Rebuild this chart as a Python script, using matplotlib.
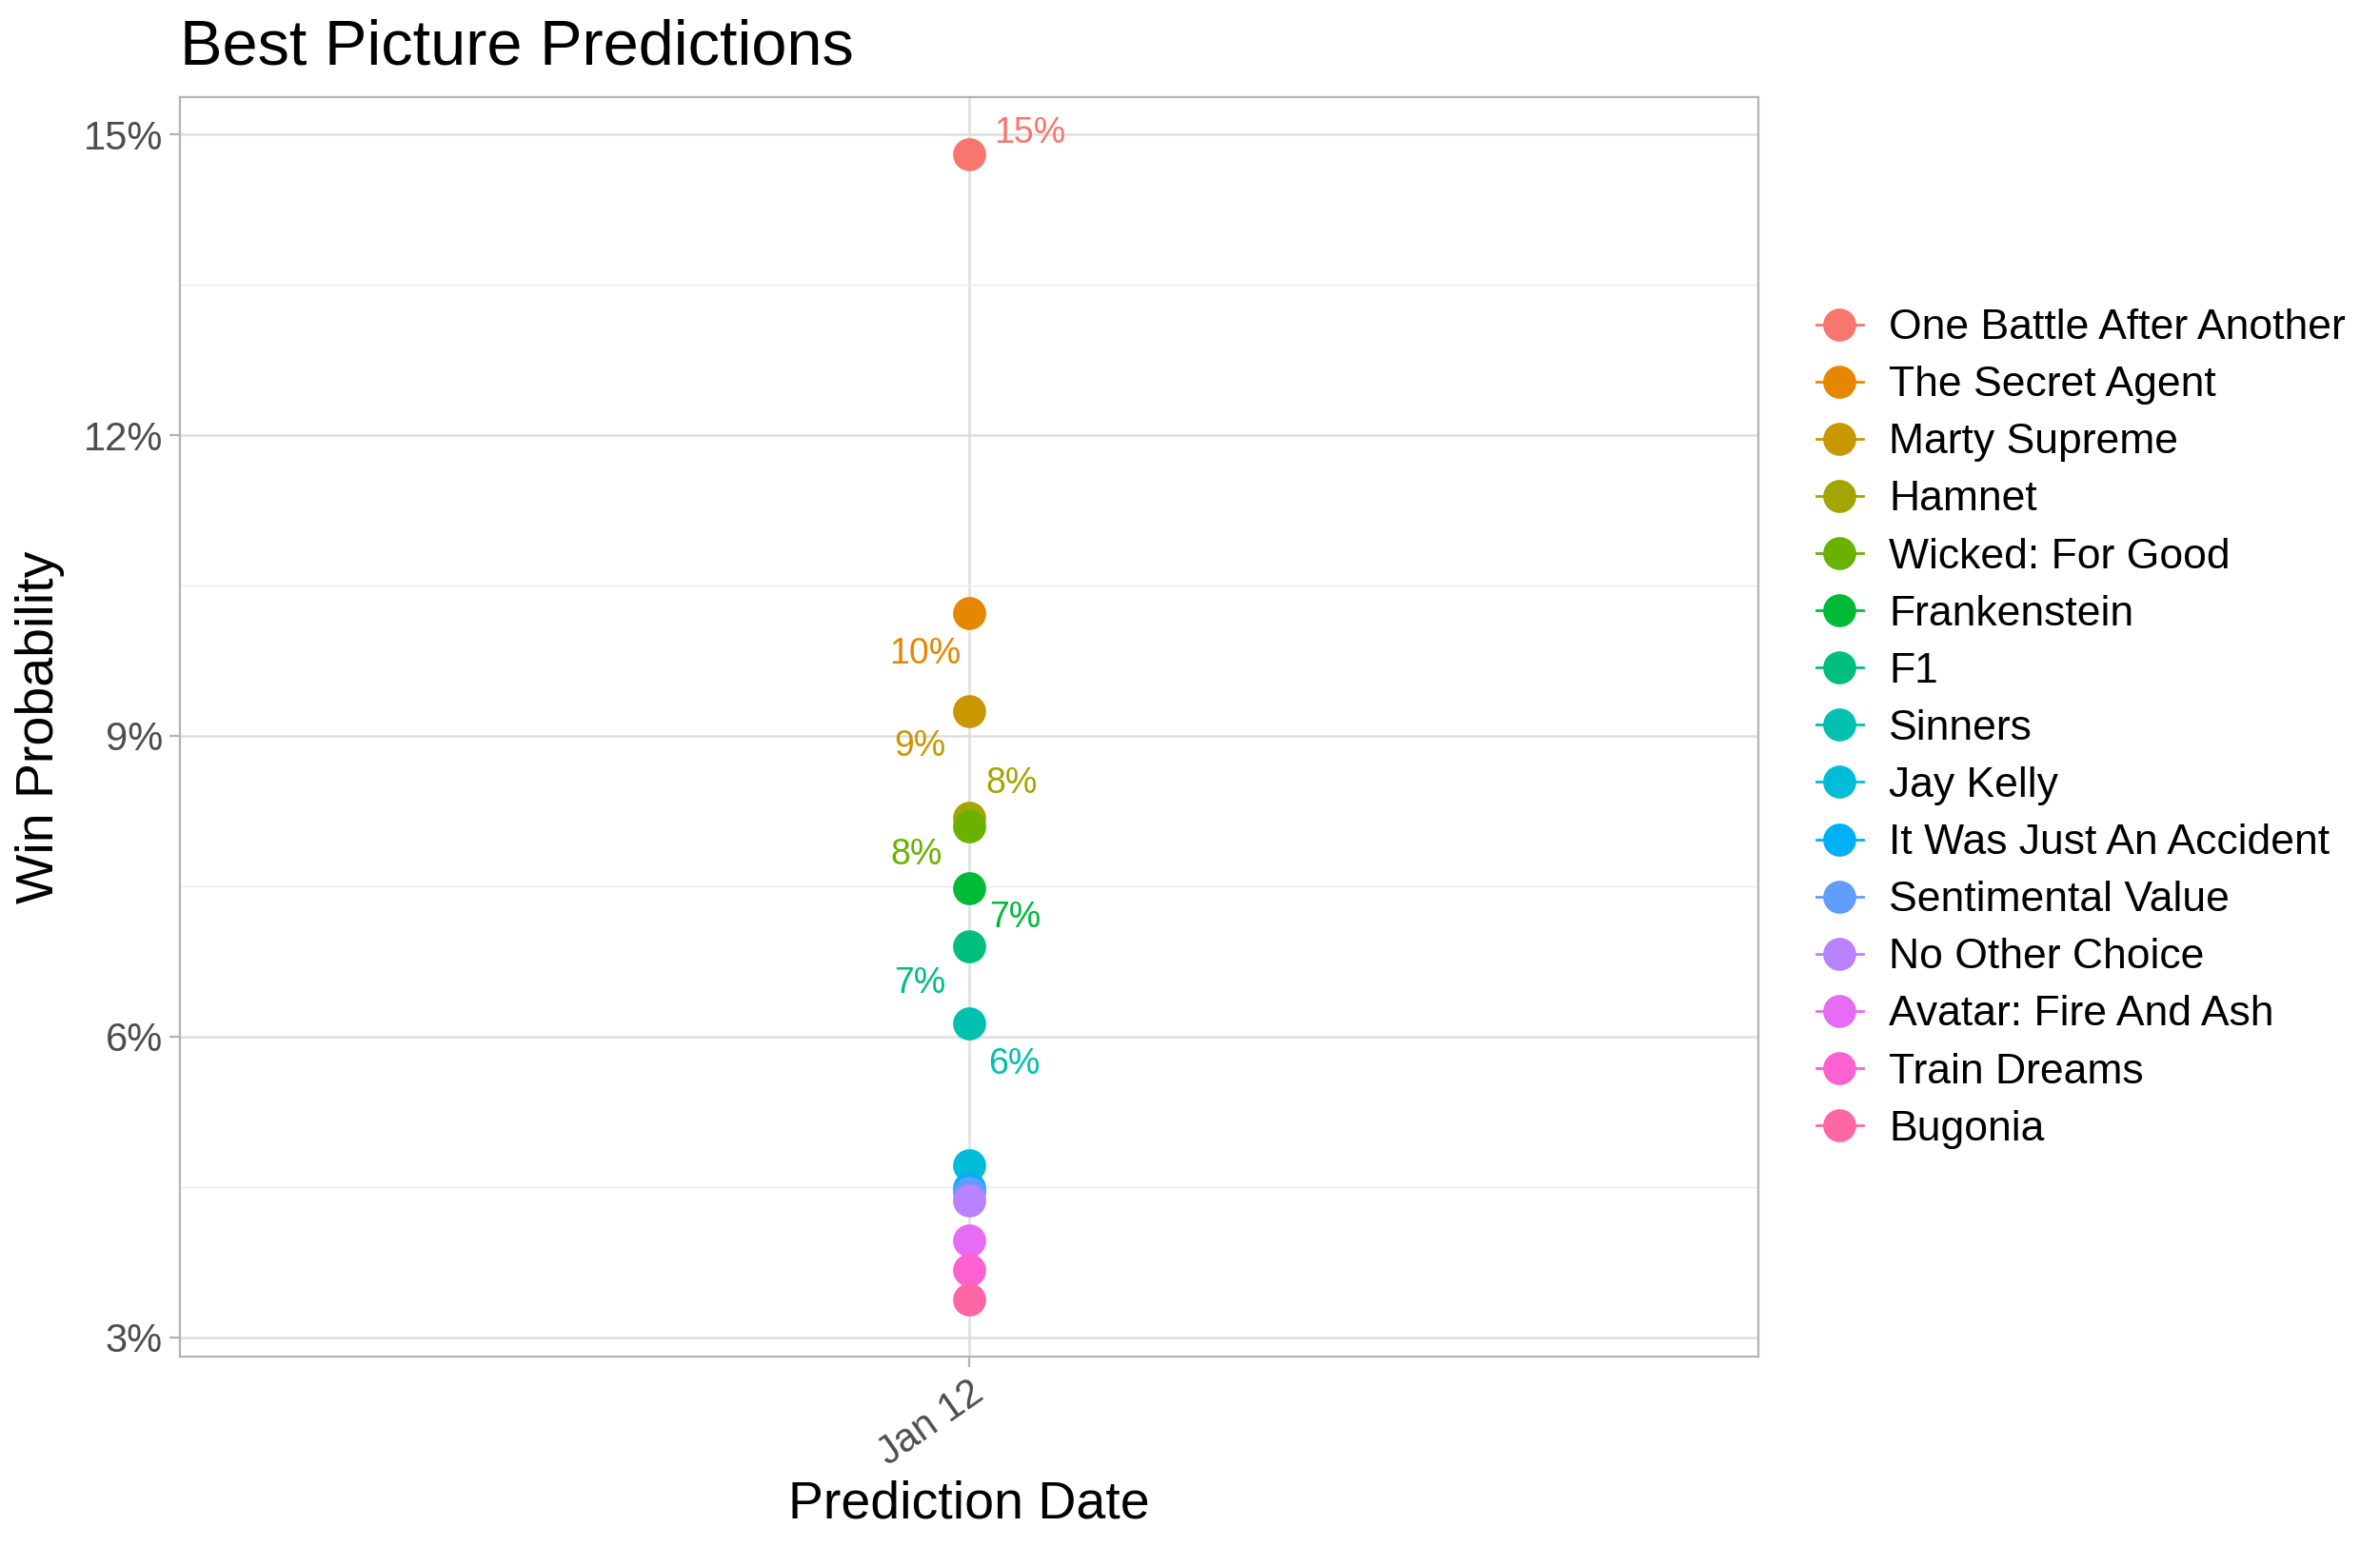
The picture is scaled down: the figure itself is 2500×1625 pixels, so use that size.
import matplotlib
matplotlib.use("Agg")
import matplotlib.pyplot as plt
from matplotlib.lines import Line2D
from matplotlib.ticker import MultipleLocator, FuncFormatter
import matplotlib.dates as mdates
from datetime import datetime

plt.rcParams['font.family'] = ['Liberation Sans', 'DejaVu Sans']

# ---- data ----
films = ["One Battle After Another", "The Secret Agent", "Marty Supreme", "Hamnet",
         "Wicked: For Good", "Frankenstein", "F1", "Sinners", "Jay Kelly",
         "It Was Just An Accident", "Sentimental Value", "No Other Choice",
         "Avatar: Fire And Ash", "Train Dreams", "Bugonia"]
win_prob = [14.80, 10.22, 9.25, 8.18, 8.10, 7.48, 6.90, 6.13, 4.72,
            4.49, 4.44, 4.36, 3.97, 3.67, 3.38]
pred_date = datetime(2026, 1, 12)
colors = ["#F8766D", "#E58700", "#C99800", "#A3A500", "#6BB100", "#00BA38",
          "#00BF7D", "#00C0AF", "#00BCD8", "#00B0F6", "#619CFF", "#B983FF",
          "#E76BF3", "#FD61D1", "#FF67A4"]
y_ticks = [3, 6, 9, 12, 15]

# label offsets (style, in points) for the labelled films
label_offsets = [(46, 16), (-33, -31), (-37, -27), (32, 26), (-40, -22),
                 (35, -22), (-37, -28), (34, -31)]

fig = plt.figure(figsize=(25, 16.25), dpi=100)
ax = fig.add_axes([0.0756, 0.1232, 0.6632, 0.8140])

xnum = mdates.date2num(pred_date)
for f, v, c in zip(films, win_prob, colors):
    ax.plot([xnum], [v], linestyle='-', marker='o', color=c, markersize=25,
            markeredgewidth=0, zorder=3)

labelled = [i for i, v in enumerate(win_prob) if v >= 5]
for i, off in zip(labelled, label_offsets):
    ax.annotate(f"{round(win_prob[i])}%", xy=(xnum, win_prob[i]), xytext=off,
                textcoords='offset points', ha='center', va='center',
                color=colors[i], fontsize=27, zorder=4)

span = max(win_prob) - min(win_prob)
ax.set_ylim(min(win_prob) - 0.05 * span, max(win_prob) + 0.05 * span)
ax.set_xlim(xnum - 1, xnum + 1)

ax.set_yticks(y_ticks)
ax.yaxis.set_major_formatter(FuncFormatter(lambda v, p: f"{v:.0f}%"))
ax.yaxis.set_minor_locator(MultipleLocator(1.5))
ax.set_xticks([xnum])
ax.set_xticklabels([pred_date.strftime("%b %d")], rotation=35, ha='right',
                   rotation_mode='anchor')

ax.grid(which='major', color='#DEDEDE', linewidth=1.8, zorder=0)
ax.grid(which='minor', axis='y', color='#EBEBEB', linewidth=0.9, zorder=0)
ax.set_axisbelow(True)
for s in ax.spines.values():
    s.set_color('#B3B3B3')
    s.set_linewidth(1.6)
ax.tick_params(which='major', length=8, width=1.6, color='#B3B3B3',
               labelcolor='#4D4D4D', labelsize=30, pad=5)
ax.tick_params(which='minor', length=0)

ax.set_xlabel("Prediction Date", fontsize=40, color='black', labelpad=5)
ax.set_ylabel("Win Probability", fontsize=40, color='black', labelpad=14)

fig.text(0.0756, 1 - 67 / 1625, "Best Picture Predictions", fontsize=48,
         ha='left', va='baseline', color='black')

handles = [Line2D([0], [0], color=c, marker='o', markersize=25, linewidth=2,
                  markeredgewidth=0) for c in colors]
fig.legend(handles, films, loc='center left', bbox_to_anchor=(0.756, 0.529),
           frameon=False, fontsize=32, handlelength=1.1, handletextpad=0.62,
           labelspacing=0.43, borderaxespad=0)

fig.savefig("out.png", dpi=100)
